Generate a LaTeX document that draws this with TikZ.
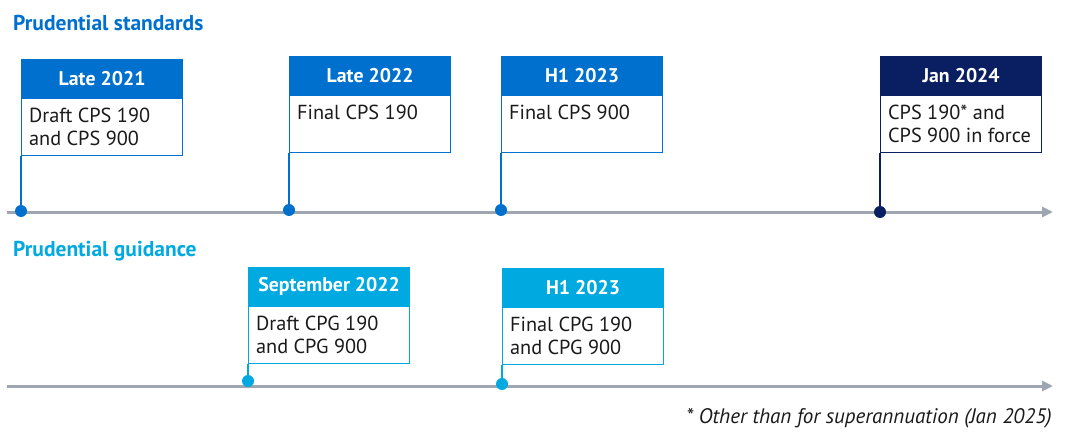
\documentclass[tikz,border=0pt]{standalone}
\usepackage{fontspec}
\setmainfont{PT Sans}
\usetikzlibrary{arrows.meta}
\definecolor{cblue}{HTML}{0070CE}
\definecolor{clight}{HTML}{00A9E0}
\definecolor{cnavy}{HTML}{0A1F62}
\definecolor{cgray}{HTML}{9EA6B2}
\definecolor{ctext}{HTML}{1A1A1A}
\newcommand{\bodytxt}[1]{\parbox[t][57pt][t]{146pt}{\raggedright\rule{0pt}{23.5pt}#1}}
\tikzset{
  title/.style={font=\fontsize{21.5}{24}\selectfont\bfseries, anchor=base west, inner sep=0pt},
  head/.style={fill=#1, draw=#1, line width=1.2pt, text=white, font=\fontsize{19.8}{22}\selectfont\bfseries,
    minimum width=161pt, minimum height=38pt, inner sep=0pt, anchor=north west},
  bodybox/.style={draw=#1, line width=1.2pt, fill=white, text=ctext, font=\fontsize{20.3}{23.5}\selectfont,
    minimum width=161pt, inner xsep=6.5pt, inner ysep=0pt, anchor=north west, align=left},
  stem/.style={draw=#1, line width=1.2pt},
  dot/.style={circle, fill=#1, inner sep=0pt, minimum size=12pt},
  tl/.style={draw=cgray, line width=3pt, -{Triangle[length=11pt,width=10pt]}},
}
\begin{document}
\begin{tikzpicture}[x=1pt,y=-1pt]
\useasboundingbox (0,0) rectangle (1084,441);
% titles
\node[title, text=cblue] (t1) at (13,31) {Prudential standards};
\node[title, text=clight] (t2) at (13,256) {Prudential guidance};
% timelines
\coordinate (s1) at (7,212);
\coordinate (e1) at (1053,212);
\coordinate (s2) at (7,386);
\coordinate (e2) at (1053,386);
\draw[tl] (s1) -- (e1);
\draw[tl] (s2) -- (e2);
% top events
\node[head=cblue] (h1) at (21,59) {Late 2021};
\node[bodybox=cblue] (b1) at (h1.south west) {\bodytxt{Draft CPS 190\\and CPS 900}};
\node[dot=cblue] (d1) at (21,211) {};
\draw[stem=cblue] (b1.south west) -- (d1.center);

\node[head=cblue] (h2) at (289,56) {Late 2022};
\node[bodybox=cblue] (b2) at (h2.south west) {\bodytxt{Final CPS 190}};
\node[dot=cblue] (d2) at (289,210) {};
\draw[stem=cblue] (b2.south west) -- (d2.center);

\node[head=cblue] (h3) at (501,56) {H1 2023};
\node[bodybox=cblue] (b3) at (h3.south west) {\bodytxt{Final CPS 900}};
\node[dot=cblue] (d3) at (501,210) {};
\draw[stem=cblue] (b3.south west) -- (d3.center);

\node[head=cnavy] (h4) at (880,56) {Jan 2024};
\node[bodybox=cnavy] (b4) at (h4.south west) {\bodytxt{CPS 190* and\\CPS 900 in force}};
\node[dot=cnavy] (d4) at (880,212) {};
\draw[stem=cnavy] (b4.south west) -- (d4.center);
% bottom events
\node[head=clight] (h5) at (248,267) {September 2022};
\node[bodybox=clight] (b5) at (h5.south west) {\bodytxt{Draft CPG 190\\and CPG 900}};
\node[dot=clight] (d5) at (248,381) {};
\draw[stem=clight] (b5.south west) -- (d5.center);

\node[head=clight] (h6) at (502,268) {H1 2023};
\node[bodybox=clight] (b6) at (h6.south west) {\bodytxt{Final CPG 190\\and CPG 900}};
\node[dot=clight] (d6) at (502,384) {};
\draw[stem=clight] (b6.south west) -- (d6.center);
% footnote
\node[anchor=base east, inner sep=0pt, text=ctext, font=\fontsize{21}{24}\selectfont\itshape] (fn) at (1052,423) {* Other than for superannuation (Jan 2025)};
\end{tikzpicture}
\end{document}
